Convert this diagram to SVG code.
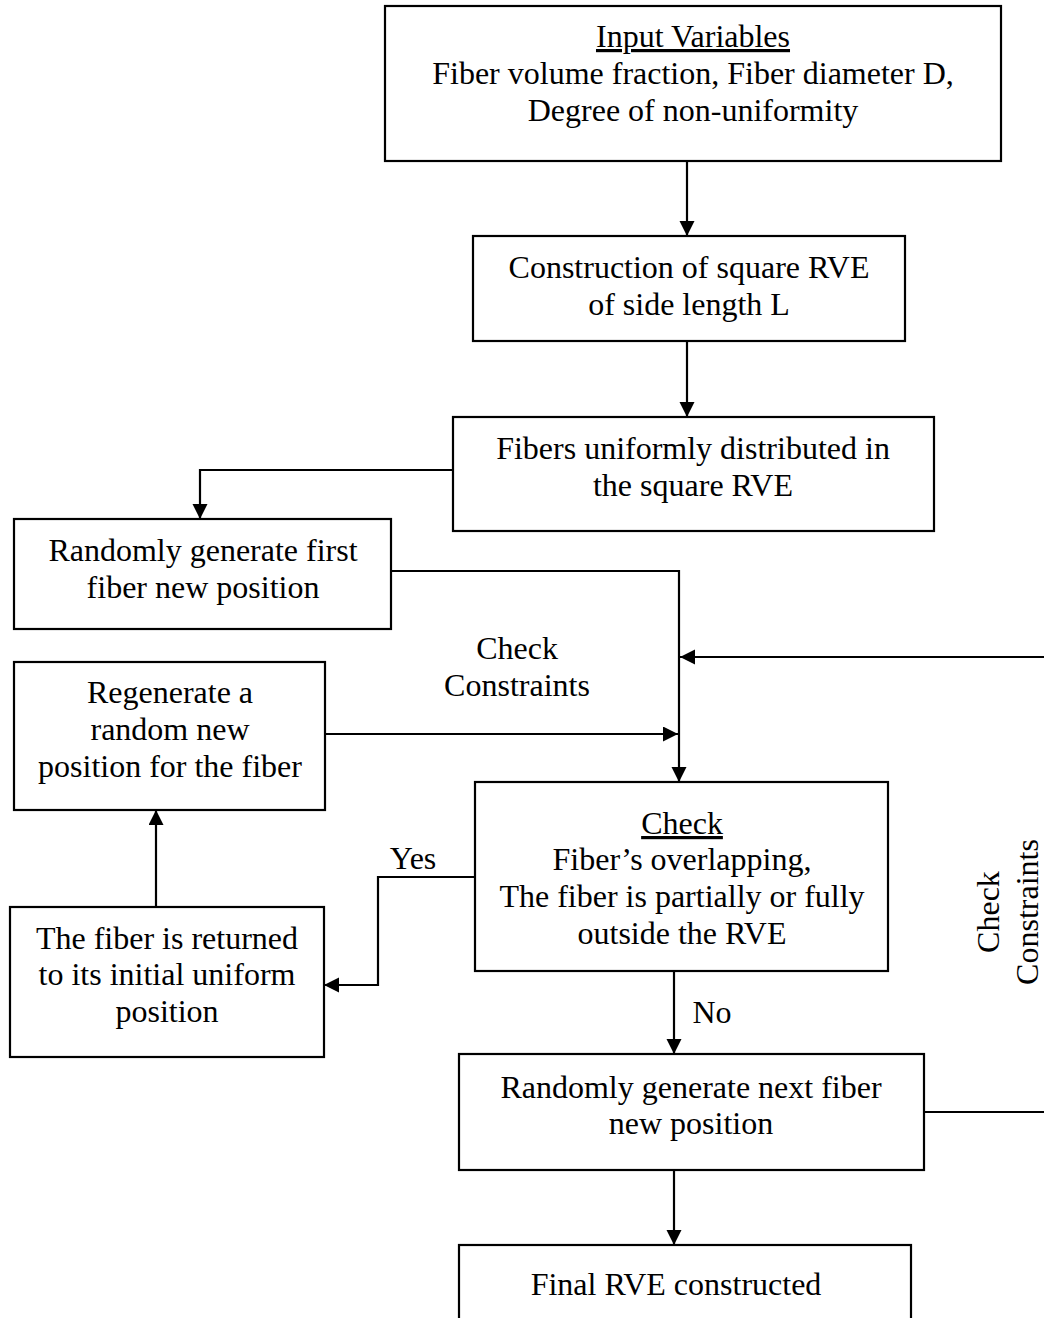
<svg xmlns="http://www.w3.org/2000/svg" width="1044" height="1318" viewBox="0 0 1044 1318">
<style>
  .box { fill: #ffffff; stroke: #000000; stroke-width: 2.2; }
  .t { font-family: "Liberation Serif", "Times New Roman", serif; font-size: 32px; fill: #000000; text-anchor: middle; }
  .u { text-decoration: underline; }
  .c { fill: none; stroke: #000000; stroke-width: 2.2; }
</style>
<defs>
  <marker id="ah" markerUnits="userSpaceOnUse" markerWidth="17" markerHeight="17" refX="15" refY="7.5" orient="auto">
    <path d="M0,0 L15,7.5 L0,15 z" fill="#000000"/>
  </marker>
</defs>
<rect width="1044" height="1318" fill="#ffffff"/>

<g id="connectors">
  <path class="c" d="M687,161 V236" marker-end="url(#ah)"/>
  <path class="c" d="M687,341 V417" marker-end="url(#ah)"/>
  <path class="c" d="M453,470 H200 V519" marker-end="url(#ah)"/>
  <path class="c" d="M391,571 H679 V782" marker-end="url(#ah)"/>
  <path class="c" d="M924,1112 H1048 V657 H680" marker-end="url(#ah)"/>
  <path class="c" d="M325,734 H678" marker-end="url(#ah)"/>
  <path class="c" d="M475,877 H378 V985 H324" marker-end="url(#ah)"/>
  <path class="c" d="M156,907 V810" marker-end="url(#ah)"/>
  <path class="c" d="M674,971 V1054" marker-end="url(#ah)"/>
  <path class="c" d="M674,1170 V1245" marker-end="url(#ah)"/>
  <text class="t" x="517" y="659">Check</text>
  <text class="t" x="517" y="696">Constraints</text>
  <text class="t" x="413" y="869">Yes</text>
  <text class="t" x="712" y="1023">No</text>
  <text class="t" transform="translate(999,912) rotate(-90)">Check</text>
  <text class="t" transform="translate(1038,912) rotate(-90)">Constraints</text>
</g>

<g id="input">
  <rect class="box" x="385" y="6" width="616" height="155"/>
  <text class="t u" x="693" y="47">Input Variables</text>
  <text class="t" x="693" y="84">Fiber volume fraction, Fiber diameter D,</text>
  <text class="t" x="693" y="121">Degree of non-uniformity</text>
</g>
<g id="construct">
  <rect class="box" x="473" y="236" width="432" height="105"/>
  <text class="t" x="689" y="278">Construction of square RVE</text>
  <text class="t" x="689" y="315">of side length L</text>
</g>
<g id="uniform">
  <rect class="box" x="453" y="417" width="481" height="114"/>
  <text class="t" x="693" y="459">Fibers uniformly distributed in</text>
  <text class="t" x="693" y="496">the square RVE</text>
</g>
<g id="first">
  <rect class="box" x="14" y="519" width="377" height="110"/>
  <text class="t" x="203" y="561">Randomly generate first</text>
  <text class="t" x="203" y="598">fiber new position</text>
</g>
<g id="regenerate">
  <rect class="box" x="14" y="662" width="311" height="148"/>
  <text class="t" x="170" y="703">Regenerate a</text>
  <text class="t" x="170" y="740">random new</text>
  <text class="t" x="170" y="777">position for the fiber</text>
</g>
<g id="check">
  <rect class="box" x="475" y="782" width="413" height="189"/>
  <text class="t u" x="682" y="834">Check</text>
  <text class="t" x="682" y="870">Fiber’s overlapping,</text>
  <text class="t" x="682" y="907">The fiber is partially or fully</text>
  <text class="t" x="682" y="944">outside the RVE</text>
</g>
<g id="returned">
  <rect class="box" x="10" y="907" width="314" height="150"/>
  <text class="t" x="167" y="949">The fiber is returned</text>
  <text class="t" x="167" y="985">to its initial uniform</text>
  <text class="t" x="167" y="1022">position</text>
</g>
<g id="next">
  <rect class="box" x="459" y="1054" width="465" height="116"/>
  <text class="t" x="691" y="1098">Randomly generate next fiber</text>
  <text class="t" x="691" y="1134">new position</text>
</g>
<g id="final">
  <rect class="box" x="459" y="1245" width="452" height="85"/>
  <text class="t" x="676" y="1295">Final RVE constructed</text>
</g>
</svg>
